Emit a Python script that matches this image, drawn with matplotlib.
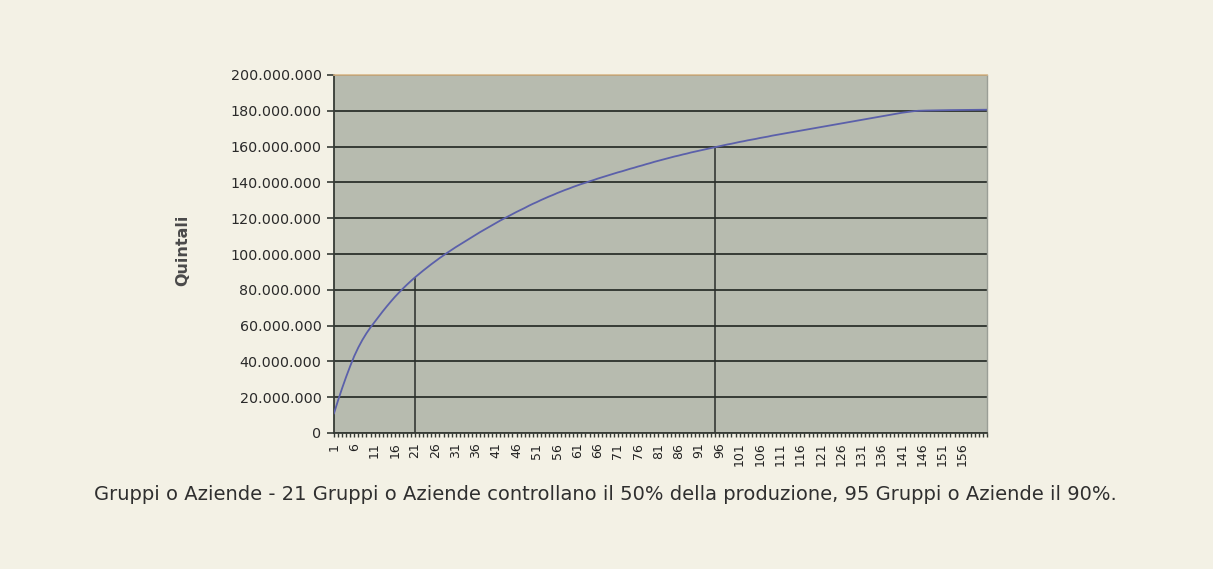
import matplotlib
matplotlib.use("Agg")
import matplotlib.pyplot as plt
from matplotlib.ticker import FuncFormatter, MultipleLocator, FixedLocator
import numpy as np

# Cumulative production (millions of quintali), one value per group/company (1..162)
cumulative_millions = [
    11.0, 18.2, 25.0, 31.4, 37.4, 43.0, 47.8, 52.0, 55.7, 59.0,
    62.0, 65.0, 67.9, 70.7, 73.4, 76.0, 78.4, 80.7, 82.9, 85.0,
    87.0, 88.9, 90.75, 92.55, 94.3, 96.0, 97.65, 99.25, 100.8, 102.3,
    103.8, 105.2, 106.6, 108.0, 109.4, 110.8, 112.2, 113.5, 114.8, 116.1,
    117.4, 118.7, 119.9, 121.1, 122.3, 123.5, 124.6, 125.7, 126.9, 128.0,
    129.0, 130.1, 131.1, 132.1, 133.0, 134.0, 134.9, 135.8, 136.6, 137.5,
    138.3, 139.1, 139.8, 140.6, 141.3, 142.1, 142.8, 143.5, 144.2, 144.9,
    145.6, 146.2, 146.9, 147.6, 148.2, 148.9, 149.5, 150.2, 150.8, 151.5,
    152.1, 152.7, 153.3, 153.9, 154.5, 155.0, 155.6, 156.1, 156.7, 157.2,
    157.7, 158.2, 158.7, 159.2, 159.7, 160.2, 160.7, 161.2, 161.6, 162.1,
    162.6, 163.0, 163.5, 163.9, 164.3, 164.8, 165.2, 165.6, 166.1, 166.5,
    166.9, 167.3, 167.7, 168.1, 168.5, 168.9, 169.3, 169.7, 170.1, 170.5,
    170.9, 171.3, 171.7, 172.1, 172.5, 172.9, 173.3, 173.7, 174.1, 174.5,
    174.9, 175.3, 175.7, 176.1, 176.5, 176.9, 177.3, 177.7, 178.1, 178.5,
    178.9, 179.2, 179.5, 179.8, 180.0, 180.1, 180.15, 180.2, 180.25, 180.3,
    180.33, 180.36, 180.39, 180.42, 180.45, 180.47, 180.49, 180.51, 180.53, 180.55,
    180.57, 180.6,
]
marker_groups = [21, 95]          # groups reaching 50% and 90%
y_ticks = [0, 20e6, 40e6, 60e6, 80e6, 100e6, 120e6, 140e6, 160e6, 180e6, 200e6]
x_tick_labels = [str(i) for i in range(1, 157, 5)]   # 1, 6, ..., 156

caption = ("Gruppi o Aziende - 21 Gruppi o Aziende controllano il 50% della produzione, "
           "95 Gruppi o Aziende il 90%.")
y_label = "Quintali"

values = np.array(cumulative_millions) * 1e6
n = len(values)
groups = np.arange(1, n + 1)

bg = "#f3f1e5"
plot_bg = "#b7bbaf"
grid_c = "#363b35"

fig = plt.figure(figsize=(12.13, 5.69), dpi=100)
fig.patch.set_facecolor(bg)
ax = fig.add_axes([334 / 1213, 1 - 433 / 569, (987 - 334) / 1213, (433 - 75) / 569])
ax.set_facecolor(plot_bg)

ax.plot(groups, values, color="#5b60aa", lw=1.3, zorder=3)

for g in marker_groups:
    ax.vlines(g, 0, values[g - 1], color="#2a2e2a", lw=1.1, zorder=2)

ax.set_xlim(1, n)
ax.set_ylim(0, 200e6)
ax.set_yticks(y_ticks)
ax.yaxis.set_major_formatter(FuncFormatter(lambda v, p: f"{int(v):,}".replace(",", ".")))
ax.grid(axis="y", color=grid_c, lw=1.4, zorder=1)
ax.set_axisbelow(True)

label_pos = [int(s) for s in x_tick_labels]
ax.xaxis.set_major_locator(FixedLocator(label_pos))
ax.xaxis.set_minor_locator(MultipleLocator(1))
ax.set_xticklabels(x_tick_labels, rotation=90, fontsize=9, color="#222222")
ax.tick_params(axis="x", which="both", length=3, width=1, color=grid_c, direction="out", pad=4)
ax.tick_params(axis="y", length=5, width=1.2, color=grid_c, labelsize=10.3, labelcolor="#2a2a2a", pad=4)

for s in ["left", "bottom"]:
    ax.spines[s].set_color(grid_c)
    ax.spines[s].set_linewidth(1.3)
ax.spines["top"].set_color("#d9b98a")
ax.spines["top"].set_linewidth(1.2)
ax.spines["right"].set_color("#9a9e96")
ax.spines["right"].set_linewidth(1.0)

fig.text(183 / 1213, 1 - 250 / 569, y_label, rotation=90, ha="center", va="center",
         fontsize=11.5, fontweight="bold", color="#4a4a4a")

fig.text(605 / 1213, 1 - 494 / 569, caption, ha="center", va="center",
         fontsize=14, color="#2f2f2f")

fig.savefig("out.png", dpi=100, facecolor=bg)
